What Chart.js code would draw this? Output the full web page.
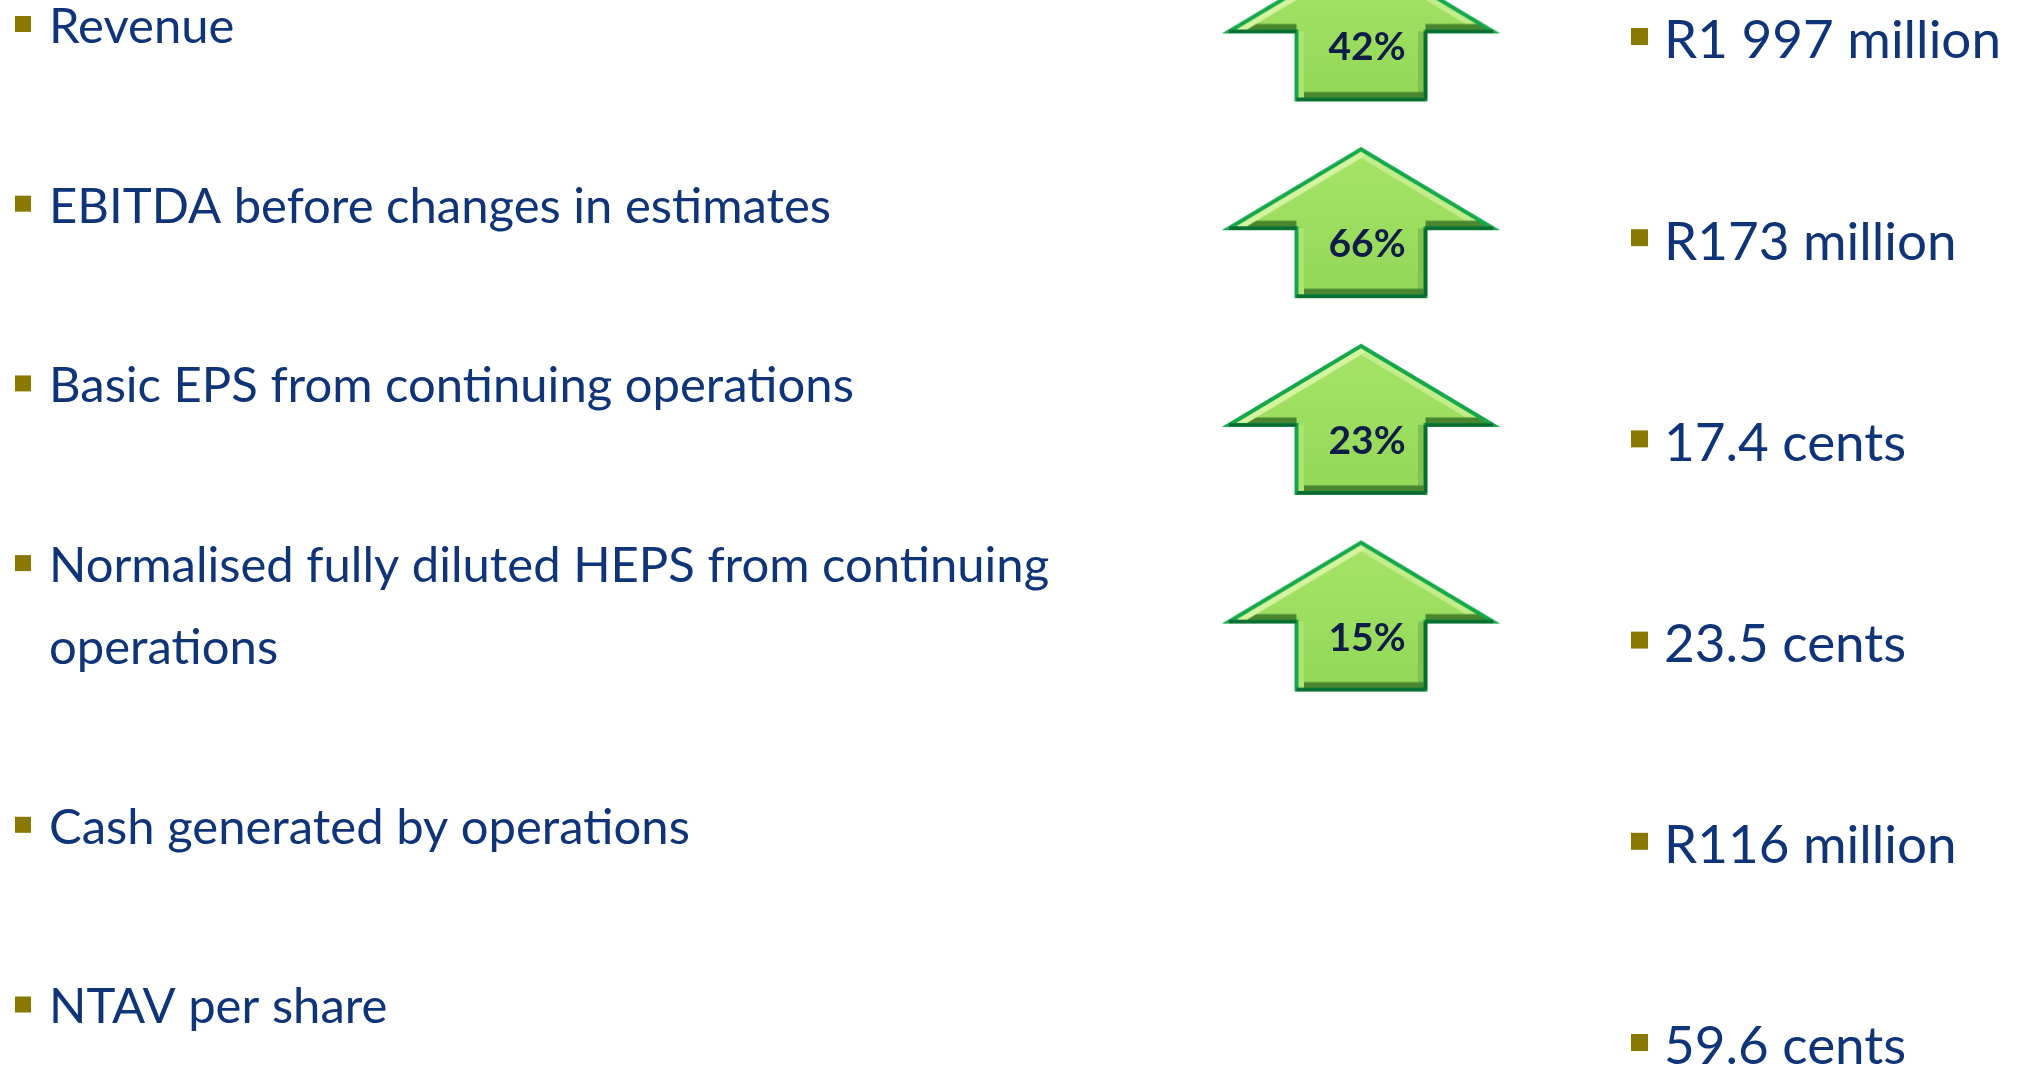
<!DOCTYPE html>
<html>
<head>
<meta charset="utf-8">
<title>Financial highlights</title>
<script src="https://cdn.jsdelivr.net/npm/chart.js@4.4.0/dist/chart.umd.min.js"></script>
<style>
  html, body { margin: 0; padding: 0; background: #ffffff; overflow: hidden; }
  canvas { display: block; }
</style>
</head>
<body>
<canvas id="slide" width="2025" height="1070"></canvas>
<script>
// Slide data
const metrics = [
  'Revenue',
  'EBITDA before changes in estimates',
  'Basic EPS from continuing operations',
  ['Normalised fully diluted HEPS from continuing', 'operations'],
  'Cash generated by operations',
  'NTAV per share'
];
const changes = [42, 66, 23, 15, null, null];   // % increase, arrows only where given
const values = ['R1 997 million', 'R173 million', '17.4 cents', '23.5 cents', 'R116 million', '59.6 cents'];

// Colours
const NAVY = '#0f3478';
const OLIVE = '#8a7900';
const ARROW_TEXT = '#0e1d45';

// Column layout (slide pixels)
const COL = { bullet: 15, text: 49, arrow: 1361, valueBullet: 1639.5, valueText: 1664 };
const LINE_GAP = 82;

function mix(a, b, t) {
  const pa = a.match(/\w\w/g).map(h => parseInt(h, 16));
  const pb = b.match(/\w\w/g).map(h => parseInt(h, 16));
  return 'rgb(' + pa.map((v, i) => Math.round(v + (pb[i] - v) * t)).join(',') + ')';
}

// Green bevelled "up" arrow used as the point style of the change series
function makeArrow() {
  const pad = 4;
  const W = 280, H = 2 * (94 + pad);
  const c = document.createElement('canvas');
  c.width = W; c.height = H;
  const g = c.getContext('2d');
  const cx = W / 2;
  const pts = [[0, 0], [132, 79], [64.5, 79], [64.5, 147], [-64.5, 147], [-64.5, 79], [-132, 79]]
    .map(([x, y]) => [cx + x, pad + y]);

  const path = () => {
    g.beginPath();
    pts.forEach(([x, y], i) => i ? g.lineTo(x, y) : g.moveTo(x, y));
    g.closePath();
  };

  const grad = g.createLinearGradient(0, pad, 0, pad + 147);
  grad.addColorStop(0, '#a6e468');
  grad.addColorStop(1, '#93d858');
  path();
  g.fillStyle = grad;
  g.fill();

  // bevel strips, shaded by edge direction (light from upper left)
  const LX = -0.3, LY = -0.95;
  g.save();
  path();
  g.clip();
  pts.forEach(([ax, ay], i) => {
    const [bx, by] = pts[(i + 1) % pts.length];
    const len = Math.hypot(bx - ax, by - ay);
    const s = ((by - ay) / len) * LX + (-(bx - ax) / len) * LY;
    const col = s >= 0 ? mix('9bdd5e', 'e2f9ae', s * 0.85) : mix('9bdd5e', '2f6a22', -s * 0.8);
    g.strokeStyle = col;
    g.lineCap = 'butt';
    g.lineWidth = 15;
    g.beginPath(); g.moveTo(ax, ay); g.lineTo(bx, by); g.stroke();
  });
  g.restore();

  // outer rim
  path();
  g.lineJoin = 'miter';
  g.lineWidth = 4;
  g.strokeStyle = '#14a84a';
  g.stroke();
  [[1, 2], [2, 3], [3, 4], [5, 6]].forEach(([a, b]) => {
    g.beginPath(); g.moveTo(pts[a][0], pts[a][1]); g.lineTo(pts[b][0], pts[b][1]);
    g.strokeStyle = '#0a6c32';
    g.lineWidth = 3.5;
    g.stroke();
  });
  return c;
}

const changeRows = changes.flatMap((v, i) => v == null ? [] : [{ x: COL.arrow, y: i, v: v }]);
const valueRows = values.map((v, i) => ({ x: COL.valueBullet, y: i }));

const slideText = {
  id: 'slideText',
  afterDatasetsDraw(chart) {
    const ctx = chart.ctx;
    const yL = chart.scales.yLabel;
    ctx.save();

    // left column: bullets + metric names
    ctx.font = '49px Lato';
    ctx.textAlign = 'left';
    ctx.textBaseline = 'alphabetic';
    let wraps = 0;
    metrics.forEach((m, i) => {
      const lines = Array.isArray(m) ? m : [m];
      const base = yL.getPixelForValue(i) + wraps * LINE_GAP;
      ctx.fillStyle = OLIVE;
      ctx.fillRect(COL.bullet, base - 27, 16, 16);
      ctx.fillStyle = NAVY;
      lines.forEach((t, k) => ctx.fillText(t, COL.text, base + k * LINE_GAP));
      wraps += lines.length - 1;
    });

    // percentages inside the arrows
    ctx.font = 'bold 39px Lato';
    ctx.textAlign = 'center';
    ctx.fillStyle = ARROW_TEXT;
    chart.getDatasetMeta(0).data.forEach((el, k) => {
      ctx.fillText(changeRows[k].v + '%', el.x + 6, el.y + 14);
    });

    // right column values
    ctx.font = '53px Lato';
    ctx.textAlign = 'left';
    ctx.fillStyle = NAVY;
    chart.getDatasetMeta(1).data.forEach((el, i) => {
      ctx.fillText(values[i], COL.valueText, el.y + 22);
    });
    ctx.restore();
  }
};

new Chart(document.getElementById('slide'), {
  type: 'scatter',
  data: {
    datasets: [
      {
        label: 'Increase',
        data: changeRows,
        yAxisID: 'yChange',
        pointStyle: makeArrow(),
        pointRadius: 10,
        pointHoverRadius: 10
      },
      {
        label: 'Value',
        data: valueRows,
        yAxisID: 'yValue',
        pointStyle: 'rect',
        pointRadius: 12,
        pointHoverRadius: 12,
        backgroundColor: OLIVE,
        borderWidth: 0
      }
    ]
  },
  options: {
    responsive: false,
    animation: false,
    events: [],
    layout: { padding: 0, autoPadding: false },
    plugins: { legend: { display: false }, tooltip: { enabled: false } },
    scales: {
      x: { type: 'linear', min: 0, max: 2025, display: false },
      yLabel: { type: 'linear', min: -0.2393, max: 5.7151, reverse: true, display: false },
      yChange: { type: 'linear', min: -0.2364, max: 5.2034, reverse: true, display: false },
      yValue: { type: 'linear', min: -0.1814, max: 5.1367, reverse: true, display: false }
    }
  },
  plugins: [slideText]
});
</script>
</body>
</html>
